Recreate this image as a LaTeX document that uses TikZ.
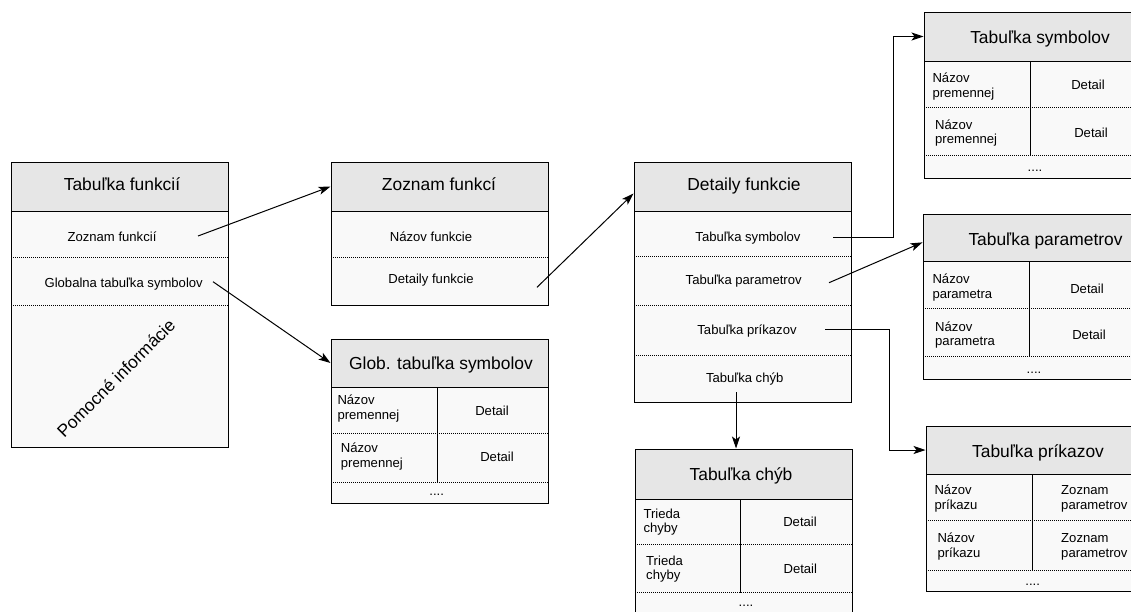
\documentclass[tikz,border=0pt]{standalone}
\usepackage{fontspec}
\setmainfont{Liberation Sans}
\usetikzlibrary{arrows.meta,calc}
\definecolor{hdrfill}{HTML}{E6E6E6}
\definecolor{bodyfill}{HTML}{F9F9F9}
\tikzset{
  hdrbox/.style={draw=black, fill=hdrfill, line width=1pt, inner sep=0pt},
  bodybox/.style={draw=black, fill=bodyfill, line width=1pt, inner sep=0pt},
  ttl/.style={anchor=base, inner sep=0pt, font=\fontsize{17.4}{20}\selectfont},
  txt/.style={anchor=base, inner sep=0pt, font=\fontsize{13.1}{14.5}\selectfont},
  ltxt/.style={anchor=west, inner sep=0pt, align=left, font=\fontsize{13.1}{14.5}\selectfont},
  rowsep/.style={line width=0.8pt, dash pattern=on 1pt off 1pt},
  coldiv/.style={line width=1pt},
  link/.style={line width=1pt, -{Stealth[length=12pt,width=8pt,inset=3pt]}},
}
\begin{document}
\begin{tikzpicture}[x=1pt,y=-1pt]
\useasboundingbox (0,0) rectangle (1131,611);
\clip (0,0) rectangle (1131,611);

% --- Tabulka funkcii ---
\node[bodybox, minimum width=217pt, minimum height=236.5pt] (tf-b) at (119.5,329.25) {};
\node[hdrbox, minimum width=217pt, minimum height=49pt] (tf-h) at (119.5,186.5) {};
\draw[rowsep] (11,257) -- (228,257);
\draw[rowsep] (11,305.7) -- (228,305.7);
\node[ttl] (tf-t) at (122,190.7) {Tabuľka funkcií};
\node[txt] (tf-r1) at (112,241.5) {Zoznam funkcií};
\node[txt] (tf-r2) at (123.7,287) {Globalna tabuľka symbolov};
\node[rotate=45, inner sep=0pt, font=\fontsize{17.4}{20}\selectfont] (tf-r3) at (116,378) {Pomocné informácie};

% --- Zoznam funkci ---
\node[bodybox, minimum width=217pt, minimum height=94.7pt] (tz-b) at (439.5,258.35) {};
\node[hdrbox, minimum width=217pt, minimum height=49pt] (tz-h) at (439.5,186.5) {};
\draw[rowsep] (331,257) -- (548,257);
\node[ttl] (tz-t) at (439,190.7) {Zoznam funkcí};
\node[txt] (tz-r1) at (431,241.7) {Názov funkcie};
\node[txt] (tz-r2) at (431,283.3) {Detaily funkcie};

% --- Glob. tabulka symbolov ---
\node[bodybox, minimum width=217pt, minimum height=116pt] (gs-b) at (439.5,445) {};
\node[hdrbox, minimum width=217pt, minimum height=48pt] (gs-h) at (439.5,363) {};
\draw[rowsep] (331,433) -- (548,433);
\draw[rowsep] (331,482) -- (548,482);
\draw[coldiv] (437,387) -- (437,482);
\node[ttl] (gs-t) at (441,369.3) {Glob. tabuľka symbolov};
\node[ltxt] (gs-a1) at (337.3,408.6) {Názov\\premennej};
\node[txt] (gs-d1) at (492,415) {Detail};
\node[ltxt] (gs-a2) at (340.7,456.6) {Názov\\premennej};
\node[txt] (gs-d2) at (497,461.7) {Detail};
\node[txt] (gs-more) at (436.7,495.7) {....};

% --- Detaily funkcie ---
\node[bodybox, minimum width=217pt, minimum height=191.7pt] (df-b) at (742.5,306.85) {};
\node[hdrbox, minimum width=217pt, minimum height=49pt] (df-h) at (742.5,186.5) {};
\draw[rowsep] (634,256) -- (851,256);
\draw[rowsep] (634,305.7) -- (851,305.7);
\draw[rowsep] (634,355.7) -- (851,355.7);
\node[ttl] (df-t) at (744,190.7) {Detaily funkcie};
\node[txt] (df-r1) at (748,241.7) {Tabuľka symbolov};
\node[txt] (df-r2) at (743.7,284) {Tabuľka parametrov};
\node[txt] (df-r3) at (747,334.3) {Tabuľka príkazov};
\node[txt] (df-r4) at (744.7,382.7) {Tabuľka chýb};

% --- Tabulka chyb ---
\node[bodybox, minimum width=217pt, minimum height=115pt] (tc-b) at (743.5,556.5) {};
\node[hdrbox, minimum width=217pt, minimum height=50pt] (tc-h) at (743.5,474) {};
\draw[rowsep] (635,544) -- (852,544);
\draw[rowsep] (635,592.7) -- (852,592.7);
\draw[coldiv] (740.7,499) -- (740.7,592.7);
\node[ttl] (tc-t) at (741,480) {Tabuľka chýb};
\node[ltxt] (tc-a1) at (643.3,522.1) {Trieda\\chyby};
\node[txt] (tc-d1) at (800,526) {Detail};
\node[ltxt] (tc-a2) at (646,569.1) {Trieda\\chyby};
\node[txt] (tc-d2) at (800.3,573.3) {Detail};
\node[txt] (tc-more) at (746,606.7) {....};

% --- Tabulka symbolov ---
\node[bodybox, minimum width=221pt, minimum height=117pt] (ts-b) at (1034.5,119.5) {};
\node[hdrbox, minimum width=221pt, minimum height=49pt] (ts-h) at (1034.5,36.5) {};
\draw[rowsep] (924,107) -- (1145,107);
\draw[rowsep] (924,155.7) -- (1145,155.7);
\draw[coldiv] (1030,61) -- (1030,155.7);
\node[ttl] (ts-t) at (1040,43.5) {Tabuľka symbolov};
\node[ltxt] (ts-a1) at (932.3,86.6) {Názov\\premennej};
\node[txt] (ts-d1) at (1088,89.3) {Detail};
\node[ltxt] (ts-a2) at (935,133.1) {Názov\\premennej};
\node[txt] (ts-d2) at (1091,137.3) {Detail};
\node[txt] (ts-more) at (1035,171.7) {....};

% --- Tabulka parametrov ---
\node[bodybox, minimum width=222pt, minimum height=117.3pt] (tp-b) at (1034,320.35) {};
\node[hdrbox, minimum width=222pt, minimum height=47.7pt] (tp-h) at (1034,237.85) {};
\draw[rowsep] (923,308) -- (1145,308);
\draw[rowsep] (923,356.7) -- (1145,356.7);
\draw[coldiv] (1029,261.7) -- (1029,356.7);
\node[ttl] (tp-t) at (1045.5,245) {Tabuľka parametrov};
\node[ltxt] (tp-a1) at (932.3,287.4) {Názov\\parametra};
\node[txt] (tp-d1) at (1087,293.3) {Detail};
\node[ltxt] (tp-a2) at (935,334.9) {Názov\\parametra};
\node[txt] (tp-d2) at (1089,339) {Detail};
\node[txt] (tp-more) at (1034,373.3) {....};

% --- Tabulka prikazov ---
\node[bodybox, minimum width=219pt, minimum height=117pt] (tk-b) at (1035.5,532.5) {};
\node[hdrbox, minimum width=219pt, minimum height=48pt] (tk-h) at (1035.5,450) {};
\draw[rowsep] (926,520) -- (1145,520);
\draw[rowsep] (926,570) -- (1145,570);
\draw[coldiv] (1032.7,474) -- (1032.7,570);
\node[ttl] (tk-t) at (1038,457.3) {Tabuľka príkazov};
\node[ltxt] (tk-a1) at (934.3,498.6) {Názov\\príkazu};
\node[ltxt] (tk-z1) at (1061,498.6) {Zoznam\\parametrov};
\node[ltxt] (tk-a2) at (937.3,546.6) {Názov\\príkazu};
\node[ltxt] (tk-z2) at (1061,546.6) {Zoznam\\parametrov};
\node[txt] (tk-more) at (1032.7,585.7) {....};

% --- references between the tables ---
\coordinate (c1) at (198,236);
\coordinate (c2) at (213,281.7);
\coordinate (c3) at (537,287.3);
\coordinate (c4) at (833,237);
\coordinate (c5) at (829,282.7);
\coordinate (c6) at (825,329);
\coordinate (c7) at (736,392);

\draw[link] (c1) -- (tz-h.west);
\draw[link] (c2) -- (gs-h.west);
\draw[link] (c3) -- ($(df-h.west)+(0,7)$);
\draw[link] (c4) -- ++(60,0) |- (ts-h.west);
\draw[link] (c5) -- ($(tp-h.west)+(0,4.5)$);
\draw[link] (c6) -- ++(64,0) |- (tk-h.west);
\draw[link] (c7) -- (c7 |- tc-h.north);
\end{tikzpicture}
\end{document}
